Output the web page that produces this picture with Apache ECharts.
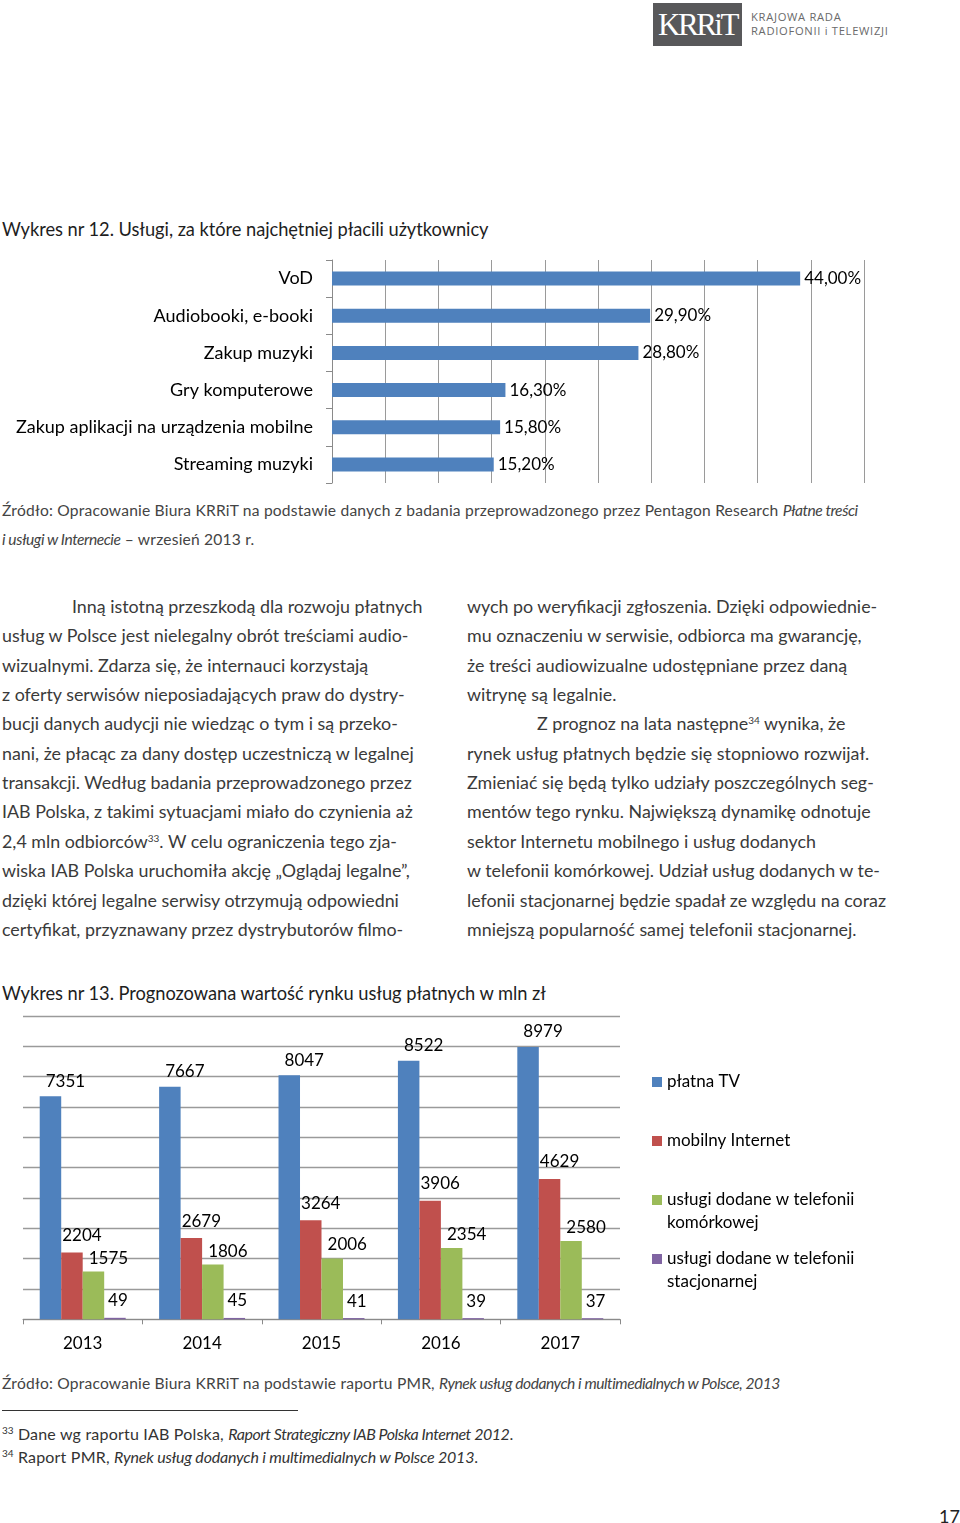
<!DOCTYPE html>
<html>
<head>
<meta charset="utf-8">
<script src="https://cdn.jsdelivr.net/npm/echarts/dist/echarts.min.js"></script>
<style>
  html, body { margin: 0; padding: 0; background: #fff; }
  body { width: 960px; height: 1523px; position: relative; overflow: hidden; font-family: Lato, "Open Sans", sans-serif; }
  .ln { position: absolute; white-space: nowrap; line-height: 20px; height: 20px; }
  .body { font-size: 17.85px; color: #3a3a3a; letter-spacing: 0px; }
  .ttl { font-size: 18.3px; color: #1e1e1e; letter-spacing: -0.05px; }
  .src { font-size: 15.6px; color: #444; letter-spacing: 0.2px; }
  .src i, .fn i { letter-spacing: -0.45px; }
  .fn { font-size: 16px; color: #333; letter-spacing: 0.2px; }
  .fn2 i { letter-spacing: -0.2px; }
  sup { font-size: 10px; vertical-align: 6px; line-height: 0; letter-spacing: 0; }
  #c1 { position: absolute; left: 0; top: 250px; width: 960px; height: 245px; }
  #c2 { position: absolute; left: 0; top: 1000px; width: 960px; height: 370px; }
  #logo { position: absolute; left: 653px; top: 3px; width: 89px; height: 43px; background: #58585a; color: #fff;
          font-family: "Liberation Serif", "DejaVu Serif", serif; font-size: 31px; line-height: 43px; text-align: center; letter-spacing: -2.5px; }
  .lg { position: absolute; left: 751px; font-size: 11.2px; color: #6a6a6a; letter-spacing: 0.7px; font-family: "Open Sans", Lato, sans-serif; white-space: nowrap; line-height: 14px; }
</style>
</head>
<body>
<div id="logo">KRRiT</div>
<div class="lg" style="top:10px">KRAJOWA RADA</div>
<div class="lg" style="top:24px">RADIOFONII i TELEWIZJI</div>

<div class="ln ttl" style="left:2px; top:219px">Wykres nr 12. Usługi, za które najchętniej płacili użytkownicy</div>
<div id="c1"></div>
<div class="ln src" style="left:2px; top:500px">Źródło: Opracowanie Biura KRRiT na podstawie danych z badania przeprowadzonego przez Pentagon Research <i>Płatne treści</i></div>
<div class="ln src" style="left:2px; top:529px"><i>i usługi w Internecie</i> – wrzesień 2013 r.</div>

<div id="textcols"></div>

<div class="ln ttl" style="left:2px; top:983px">Wykres nr 13. Prognozowana wartość rynku usług płatnych w mln zł</div>
<div id="c2"></div>
<div class="ln src" style="left:2px; top:1373px">Źródło: Opracowanie Biura KRRiT na podstawie raportu PMR, <i>Rynek usług dodanych i multimedialnych w Polsce, 2013</i></div>
<div style="position:absolute; left:2px; top:1410px; width:296px; height:1px; background:#333"></div>
<div class="ln fn" style="left:2px; top:1424px"><sup>33</sup> Dane wg raportu IAB Polska, <i>Raport Strategiczny IAB Polska Internet 2012</i>.</div>
<div class="ln fn fn2" style="left:2px; top:1447px"><sup>34</sup> Raport PMR, <i>Rynek usług dodanych i multimedialnych w Polsce 2013</i>.</div>
<div class="ln" style="left:939px; top:1506px; font-size:18px; color:#222">17</div>

<script>
// ---------- Chart 1 data ----------
var categories1 = ['VoD', 'Audiobooki, e-booki', 'Zakup muzyki', 'Gry komputerowe', 'Zakup aplikacji na urządzenia mobilne', 'Streaming muzyki'];
var shares1 = [44.0, 29.9, 28.8, 16.3, 15.8, 15.2];
var axisMax1 = 50;
var axisStep1 = 5;

// ---------- Chart 2 data ----------
var years = ['2013', '2014', '2015', '2016', '2017'];
var seriesNames2 = ['płatna TV', 'mobilny Internet', 'usługi dodane w telefonii komórkowej', 'usługi dodane w telefonii stacjonarnej'];
var legendText2 = ['płatna TV', 'mobilny Internet', 'usługi dodane w telefonii\nkomórkowej', 'usługi dodane w telefonii\nstacjonarnej'];
var platnaTV = [7351, 7667, 8047, 8522, 8979];
var mobilnyInternet = [2204, 2679, 3264, 3906, 4629];
var uslugiKomorkowe = [1575, 1806, 2006, 2354, 2580];
var uslugiStacjonarne = [49, 45, 41, 39, 37];
var axisMax2 = 10000;
var axisStep2 = 1000;

// ---------- Body text lines ----------
var leftLines = [
  'Inną istotną przeszkodą dla rozwoju płatnych',
  'usług w Polsce jest nielegalny obrót treściami audio-',
  'wizualnymi. Zdarza się, że internauci korzystają',
  'z oferty serwisów nieposiadających praw do dystry-',
  'bucji danych audycji nie wiedząc o tym i są przeko-',
  'nani, że płacąc za dany dostęp uczestniczą w legalnej',
  'transakcji. Według badania przeprowadzonego przez',
  'IAB Polska, z takimi sytuacjami miało do czynienia aż',
  '2,4 mln odbiorców<sup>33</sup>. W celu ograniczenia tego zja-',
  'wiska IAB Polska uruchomiła akcję „Oglądaj legalne”,',
  'dzięki której legalne serwisy otrzymują odpowiedni',
  'certyfikat, przyznawany przez dystrybutorów filmo-'
];
var rightLines = [
  'wych po weryfikacji zgłoszenia. Dzięki odpowiednie-',
  'mu oznaczeniu w serwisie, odbiorca ma gwarancję,',
  'że treści audiowizualne udostępniane przez daną',
  'witrynę są legalnie.',
  'Z prognoz na lata następne<sup>34</sup> wynika, że',
  'rynek usług płatnych będzie się stopniowo rozwijał.',
  'Zmieniać się będą tylko udziały poszczególnych seg-',
  'mentów tego rynku. Największą dynamikę odnotuje',
  'sektor Internetu mobilnego i usług dodanych',
  'w telefonii komórkowej. Udział usług dodanych w te-',
  'lefonii stacjonarnej będzie spadał ze względu na coraz',
  'mniejszą popularność samej telefonii stacjonarnej.'
];
(function () {
  var host = document.getElementById('textcols');
  var html = '';
  for (var i = 0; i < 12; i++) {
    var top = 596 + i * 29.35;
    html += '<div class="ln body" style="left:' + (i === 0 ? 72 : 2) + 'px; top:' + top + 'px">' + leftLines[i] + '</div>';
    html += '<div class="ln body" style="left:' + (i === 4 ? 537 : 467) + 'px; top:' + top + 'px">' + rightLines[i] + '</div>';
  }
  host.innerHTML = html;
})();

var FONT = 'Lato, "Open Sans", sans-serif';

// ---------- Chart 1 ----------
var c1 = echarts.init(document.getElementById('c1'), null, { renderer: 'canvas' });
c1.setOption({
  animation: false,
  grid: { left: 332, top: 10, width: 532, height: 223, containLabel: false },
  xAxis: {
    type: 'value', min: 0, max: axisMax1, interval: axisStep1,
    axisLine: { show: false }, axisTick: { show: false }, axisLabel: { show: false },
    splitLine: { show: true, lineStyle: { color: '#9a9a9a', width: 1 } }
  },
  yAxis: {
    type: 'category', data: categories1, inverse: true,
    axisLine: { show: true, lineStyle: { color: '#8a8a8a', width: 1 } },
    axisTick: { show: true, length: 6, lineStyle: { color: '#8a8a8a' } },
    axisLabel: { color: '#000', fontSize: 18, fontFamily: FONT, margin: 19 }
  },
  series: [{
    type: 'bar', data: shares1, barWidth: 14,
    itemStyle: { color: '#4F81BD' },
    label: {
      show: true, position: 'right', distance: 4, color: '#000', fontSize: 17, fontFamily: FONT,
      formatter: function (p) { return p.value.toFixed(2).replace('.', ',') + '%'; }
    }
  }]
});

// ---------- Chart 2 ----------
var colors2 = ['#4F81BD', '#C0504D', '#9BBB59', '#8064A2'];
var data2 = [platnaTV, mobilnyInternet, uslugiKomorkowe, uslugiStacjonarne];
var labelOffsets = [[15, -1.5], [10, -3.5], [15, 0], [3, -3.5]];
var series2 = data2.map(function (d, i) {
  return {
    name: seriesNames2[i], type: 'bar', data: d,
    barGap: '0%', barCategoryGap: '28%',
    itemStyle: { color: colors2[i] },
    label: { show: true, position: 'top', distance: 5, offset: labelOffsets[i], color: '#000', fontSize: 17, fontFamily: FONT }
  };
});
var legendTops = [70.5, 129.5, 165.5, 224.5];
var legends = seriesNames2.map(function (n, i) {
  var txt = legendText2[i].indexOf('\n') >= 0 ? '\n' + legendText2[i] : legendText2[i];
  return {
    orient: 'vertical', left: 652, top: legendTops[i], data: [n], padding: 0,
    icon: 'rect', itemWidth: 10, itemHeight: 10, itemGap: 0, selectedMode: false,
    textStyle: { color: '#000', fontSize: 17, lineHeight: 23, fontFamily: FONT },
    formatter: function () { return txt; }
  };
});
var c2 = echarts.init(document.getElementById('c2'), null, { renderer: 'canvas' });
c2.setOption({
  animation: false,
  color: colors2,
  legend: legends,
  grid: { left: 23, top: 16, width: 597, height: 303.3, containLabel: false },
  xAxis: {
    type: 'category', data: years,
    axisLine: { show: true, lineStyle: { color: '#8a8a8a', width: 1 } },
    axisTick: { show: true, length: 5, lineStyle: { color: '#8a8a8a' } },
    axisLabel: { color: '#000', fontSize: 17, fontFamily: FONT, margin: 16 }
  },
  yAxis: {
    type: 'value', min: 0, max: axisMax2, interval: axisStep2,
    axisLine: { show: false }, axisTick: { show: false }, axisLabel: { show: false },
    splitLine: { show: true, lineStyle: { color: '#9a9a9a', width: 1.3 } }
  },
  series: series2
});
</script>
</body>
</html>
